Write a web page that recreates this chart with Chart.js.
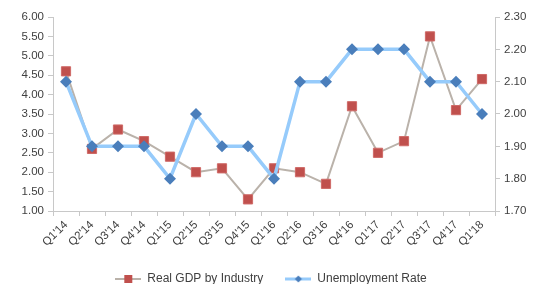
<!DOCTYPE html>
<html>
<head>
<meta charset="utf-8">
<script src="https://cdn.jsdelivr.net/npm/chart.js@4"></script>
<style>
  html, body { margin: 0; padding: 0; background: #fff; }
  #wrap { width: 542px; height: 284px; }
</style>
</head>
<body>
<div id="wrap"><canvas id="lineChart" width="542" height="284"></canvas></div>
<script>
// data
var quarters = ["Q1'14", "Q2'14", "Q3'14", "Q4'14", "Q1'15", "Q2'15", "Q3'15", "Q4'15", "Q1'16",
                "Q2'16", "Q3'16", "Q4'16", "Q1'17", "Q2'17", "Q3'17", "Q4'17", "Q1'18"];
var gdpValues = [4.6, 2.6, 3.1, 2.8, 2.4, 2.0, 2.1, 1.3, 2.1, 2.0, 1.7, 3.7, 2.5, 2.8, 5.5, 3.6, 4.4];
var unempValues = [2.10, 1.90, 1.90, 1.90, 1.80, 2.00, 1.90, 1.90, 1.80, 2.10, 2.10, 2.20, 2.20, 2.20, 2.10, 2.10, 2.00];
var leftTicks = [1.0, 6.0, 0.5];   // min, max, step
var rightTicks = [1.7, 2.3, 0.1];

var gdpLine = "#bab2aa", gdpMark = "#c0504d";
var unLine = "#96cbfb", unMark = "#4a7ebb";
var axisColor = "#c8c8c8";
var textColor = "#404040";

// small legend pictures: line with a marker in the middle
function legendIcon(lineColor, lineW, markColor, diamond) {
    var c = document.createElement("canvas");
    c.width = 26; c.height = 10;
    var g = c.getContext("2d");
    g.strokeStyle = lineColor; g.lineWidth = lineW;
    g.beginPath(); g.moveTo(0, 5); g.lineTo(26, 5); g.stroke();
    g.fillStyle = markColor;
    if (diamond) {
        g.beginPath(); g.moveTo(13, 1.5); g.lineTo(16.5, 5); g.lineTo(13, 8.5); g.lineTo(9.5, 5); g.closePath(); g.fill();
    } else {
        g.fillRect(9, 1, 8, 8);
    }
    return c;
}
var icons = [legendIcon(gdpLine, 2, gdpMark, false), legendIcon(unLine, 3, unMark, true)];

Chart.defaults.font.family = "'Liberation Sans', Arial, sans-serif";
Chart.defaults.color = textColor;

var ctx = document.getElementById("lineChart").getContext("2d");
var lineChart = new Chart(ctx, {
    type: "line",
    data: {
        labels: quarters,
        datasets: [{
            label: "Real GDP by Industry",
            data: gdpValues,
            yAxisID: "y",
            borderColor: gdpLine,
            borderWidth: 2,
            pointStyle: "rect",
            pointRadius: 6.5,
            pointBackgroundColor: gdpMark,
            pointBorderColor: "#cf6a67",
            pointBorderWidth: 1,
            tension: 0,
            order: 2
        }, {
            label: "Unemployment Rate",
            data: unempValues,
            yAxisID: "y1",
            borderColor: unLine,
            borderWidth: 3.5,
            pointStyle: "rectRot",
            pointRadius: 6,
            pointBackgroundColor: unMark,
            pointBorderColor: unMark,
            pointBorderWidth: 0,
            tension: 0,
            order: 1
        }]
    },
    options: {
        responsive: false,
        animation: false,
        layout: { padding: { top: 17, right: 0, bottom: -11, left: 0 } },
        plugins: {
            tooltip: { enabled: false },
            legend: {
                position: "bottom",
                labels: {
                    font: { size: 12 },
                    color: textColor,
                    usePointStyle: true,
                    pointStyleWidth: 26,
                    padding: 22,
                    generateLabels: function (chart) {
                        var items = Chart.defaults.plugins.legend.labels.generateLabels(chart);
                        items.sort(function (a, b) { return a.datasetIndex - b.datasetIndex; });
                        items.forEach(function (it) { it.pointStyle = icons[it.datasetIndex]; });
                        return items;
                    }
                }
            }
        },
        scales: {
            x: {
                offset: true,
                grid: { display: true, offset: true, drawOnChartArea: false, drawTicks: true, tickLength: 5, color: axisColor },
                border: { color: axisColor },
                ticks: { maxRotation: 45, minRotation: 45, autoSkip: false, font: { size: 11.5 }, padding: 2 },
                afterFit: function (s) { s.height = 40; }
            },
            y: {
                position: "left",
                min: leftTicks[0], max: leftTicks[1],
                ticks: { stepSize: leftTicks[2], font: { size: 11.5 }, padding: 4,
                         callback: function (v) { return v.toFixed(2); } },
                grid: { display: true, drawOnChartArea: false, drawTicks: true, tickLength: 5, color: axisColor },
                border: { color: axisColor },
                afterFit: function (s) { s.width = 53; }
            },
            y1: {
                position: "right",
                min: rightTicks[0], max: rightTicks[1],
                ticks: { stepSize: rightTicks[2], font: { size: 11.5 }, padding: 4,
                         callback: function (v) { return v.toFixed(2); } },
                grid: { display: true, drawOnChartArea: false, drawTicks: true, tickLength: 5, color: axisColor },
                border: { color: axisColor },
                afterFit: function (s) { s.width = 47; }
            }
        }
    }
});
</script>
</body>
</html>
